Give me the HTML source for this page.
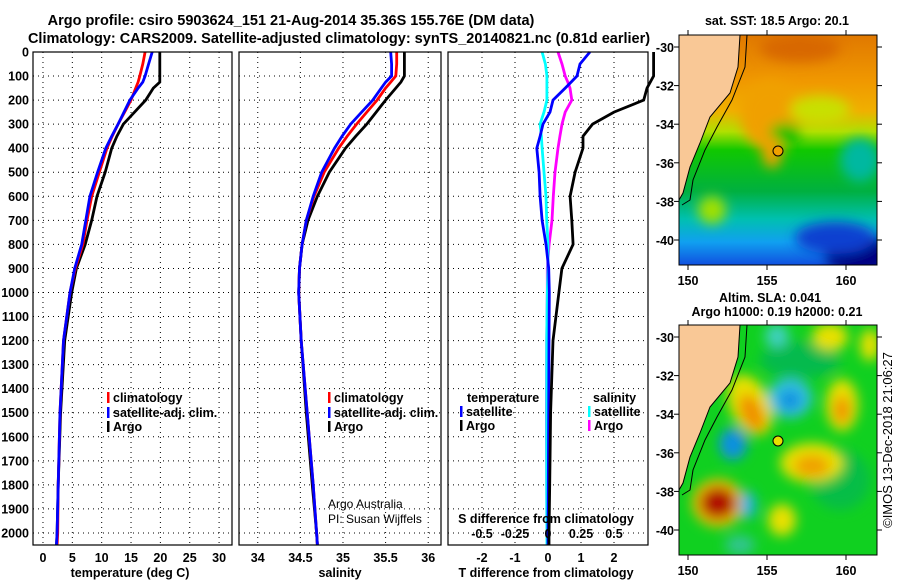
<!DOCTYPE html>
<html><head><meta charset="utf-8"><style>
body{margin:0;background:#fff;}
svg{display:block;font-family:"Liberation Sans",sans-serif;}
.b{font-weight:bold;font-size:14.5px;}
.t{font-weight:bold;font-size:12.5px;}
</style></head><body>
<svg id="c" width="900" height="580" viewBox="0 0 900 580">
<defs>
<filter id="bl" x="-50%" y="-50%" width="200%" height="200%"><feGaussianBlur stdDeviation="6"/></filter>
<filter id="bl2" x="-50%" y="-50%" width="200%" height="200%"><feGaussianBlur stdDeviation="6"/></filter>
<clipPath id="m1"><rect x="679" y="35" width="198" height="230"/></clipPath>
<clipPath id="m2"><rect x="679" y="325" width="198" height="230"/></clipPath>
<linearGradient id="sst" x1="0" y1="0" x2="0" y2="1">
<stop offset="0" stop-color="#e07800"/><stop offset="0.2" stop-color="#f09800"/><stop offset="0.33" stop-color="#f0b000"/><stop offset="0.42" stop-color="#b0e000"/><stop offset="0.5" stop-color="#10c800"/><stop offset="0.68" stop-color="#00b040"/><stop offset="0.8" stop-color="#00c0b0"/><stop offset="0.9" stop-color="#10a0f0"/><stop offset="1" stop-color="#1050e0"/></linearGradient>
</defs>
<text x="291" y="25" class="b" text-anchor="middle">Argo profile: csiro 5903624_151 21-Aug-2014 35.36S 155.76E (DM data)</text>
<text x="339" y="43" class="b" text-anchor="middle">Climatology: CARS2009. Satellite-adjusted climatology: synTS_20140821.nc (0.81d earlier)</text>
<g id="axes"></g>
<g id="maps">
<g clip-path="url(#m1)">
<rect x="679" y="35" width="198" height="230" fill="url(#sst)"/>
<g filter="url(#bl)">
<ellipse cx="770" cy="115" rx="30" ry="35" fill="#f0a000"/>
<ellipse cx="820" cy="110" rx="30" ry="14" fill="#c8e000"/>
<ellipse cx="785" cy="135" rx="16" ry="12" fill="#10c000"/>
<ellipse cx="772" cy="152" rx="10" ry="16" fill="#f0a000"/>
<ellipse cx="712" cy="210" rx="14" ry="14" fill="#a0e000"/>
<ellipse cx="860" cy="255" rx="35" ry="20" fill="#000080"/>
<ellipse cx="835" cy="238" rx="40" ry="16" fill="#1040d0"/>
<ellipse cx="860" cy="160" rx="20" ry="22" fill="#00b8a0"/>
<ellipse cx="800" cy="48" rx="40" ry="14" fill="#d86800"/>
</g>
<polygon points="679,35 740,35 738,67 730,93 710,117 700,143 690,167 683,193 679,200" fill="#f9c896" stroke="#000" stroke-width="1"/>
<polyline points="747,35 745,67 732,100 717,127 705,150 693,180 690,200 682,205" fill="none" stroke="#000" stroke-width="1"/>
</g>
<rect x="679" y="35" width="198" height="230" fill="none" stroke="#000"/>
<circle cx="778" cy="151" r="5" fill="#f0a000" stroke="#000"/>
<g clip-path="url(#m2)">
<rect x="679" y="325" width="198" height="230" fill="#10d020"/>
<g filter="url(#bl2)">
<ellipse cx="800" cy="360" rx="40" ry="18" fill="#00b060" opacity="0.7"/>
<ellipse cx="840" cy="480" rx="30" ry="30" fill="#00b060" opacity="0.6"/>
<ellipse cx="750" cy="405" rx="20" ry="32" fill="#e8e000" transform="rotate(-25 750 405)"/>
<ellipse cx="752" cy="413" rx="11" ry="20" fill="#f09000" transform="rotate(-25 752 413)"/>
<ellipse cx="733" cy="444" rx="14" ry="16" fill="#1090e0"/>
<ellipse cx="718" cy="503" rx="26" ry="24" fill="#f0c000"/>
<ellipse cx="718" cy="503" rx="18" ry="16" fill="#b01000"/>
<ellipse cx="790" cy="398" rx="22" ry="20" fill="#30c0e0"/>
<ellipse cx="790" cy="400" rx="11" ry="10" fill="#1090e0"/>
<ellipse cx="842" cy="405" rx="16" ry="26" fill="#e8e000"/>
<ellipse cx="842" cy="410" rx="8" ry="14" fill="#f09000"/>
<ellipse cx="812" cy="463" rx="32" ry="20" fill="#e8e000"/>
<ellipse cx="812" cy="466" rx="18" ry="11" fill="#f0a000"/>
<ellipse cx="782" cy="520" rx="14" ry="16" fill="#e8e000"/>
<ellipse cx="777" cy="336" rx="12" ry="12" fill="#40d0c0"/>
<ellipse cx="830" cy="337" rx="18" ry="14" fill="#e8e000"/>
<ellipse cx="748" cy="505" rx="8" ry="14" fill="#20b0e0"/>
<ellipse cx="870" cy="345" rx="10" ry="16" fill="#e8e000"/>
<ellipse cx="740" cy="545" rx="15" ry="10" fill="#40c0c0" opacity="0.7"/>
</g>
<polygon points="679,325 740,325 738,357 730,383 710,407 700,433 690,457 683,483 679,490" fill="#f9c896" stroke="#000" stroke-width="1"/>
<polyline points="747,325 745,357 732,390 717,417 705,440 693,470 690,490 682,495" fill="none" stroke="#000" stroke-width="1"/>
</g>
<rect x="679" y="325" width="198" height="230" fill="none" stroke="#000"/>
<circle cx="778" cy="441" r="5" fill="#e8e000" stroke="#000"/>
<text x="777" y="25" class="t" text-anchor="middle">sat. SST: 18.5 Argo: 20.1</text>
<text x="770" y="302" class="t" text-anchor="middle">Altim. SLA: 0.041</text>
<text x="777" y="316" class="t" text-anchor="middle">Argo h1000: 0.19 h2000: 0.21</text>
<text transform="translate(892,440) rotate(-90)" font-size="13" text-anchor="middle">©IMOS 13-Dec-2018 21:06:27</text>
</g>
</svg>
<script>
// ---- data ----
const depths = [0,50,100,125,150,200,250,300,350,400,500,600,700,800,900,1000,1200,1500,1800,2000,2050];
const tArgo  = [19.9,19.9,19.9,19.9,18.8,17.5,15.6,13.7,12.6,11.7,10.6,9.2,8.3,7.2,5.7,4.9,3.7,3.0,2.6,2.4,2.3];
const tClim  = [17.4,17.0,16.5,16.2,15.8,15.0,13.9,12.8,11.8,10.9,9.6,8.3,7.5,6.8,5.5,4.6,3.5,2.9,2.6,2.5,2.4];
const tSat   = [18.6,18.0,17.4,17.0,16.2,14.8,13.8,12.8,11.7,10.7,9.3,8.0,7.3,6.6,5.4,4.6,3.5,2.9,2.6,2.4,2.3];
const sArgo  = [35.72,35.72,35.72,35.68,35.62,35.50,35.39,35.28,35.15,35.03,34.84,34.70,34.59,34.52,34.49,34.48,34.51,34.57,34.64,34.69,34.70];
const sClim  = [35.63,35.63,35.62,35.56,35.50,35.40,35.28,35.16,35.05,34.95,34.78,34.66,34.57,34.52,34.49,34.48,34.51,34.58,34.65,34.69,34.70];
const sSat   = [35.56,35.57,35.57,35.50,35.45,35.35,35.22,35.09,34.99,34.90,34.75,34.65,34.57,34.52,34.49,34.48,34.51,34.58,34.65,34.69,34.70];
const dTArgo = [3.2,3.2,3.2,3.1,3.0,2.9,2.0,1.35,1.06,1.06,0.82,0.67,0.72,0.76,0.42,0.33,0.15,0.08,0.05,0.03,0.03];
const dTSat  = [1.27,0.97,0.88,0.70,0.52,0.15,0.06,-0.15,-0.24,-0.34,-0.27,-0.24,-0.18,-0.06,0.02,0.04,0.03,0.02,0.01,0.0,0.0];
const dSSat  = [-0.045,-0.02,-0.008,-0.008,-0.008,-0.008,-0.03,-0.06,-0.05,-0.045,-0.03,-0.015,-0.01,0.0,0.0,-0.005,-0.01,-0.01,-0.01,-0.008,-0.008];
const dSArgo = [0.076,0.106,0.13,0.15,0.167,0.18,0.13,0.106,0.09,0.076,0.053,0.04,0.03,0.008,-0.005,-0.005,-0.01,-0.012,-0.01,-0.008,-0.008];
const yTicks = [0,100,200,300,400,500,600,700,800,900,1000,1100,1200,1300,1400,1500,1600,1700,1800,1900,2000];
const tTicks = [0,5,10,15,20,25,30];
const sTicks = [34,34.5,35,35.5,36];
const dtTicks = [-2,-1,0,1,2];
const dsTicks = [-0.5,-0.25,0,0.25,0.5];
const dsTickLabels = ['-0.5','-0.25','0','0.25','0.5'];

const NS='http://www.w3.org/2000/svg';
const g=document.getElementById('axes');
const top_=52, bot=545;
const y=d=>top_+(d/2050)*(bot-top_);
function el(tag,attrs,parent){const e=document.createElementNS(NS,tag);for(const k in attrs)e.setAttribute(k,attrs[k]);(parent||g).appendChild(e);return e;}
function panel(name,x0,x1,v0,v1){
  const sx=v=>x0+(v-v0)/(v1-v0)*(x1-x0);
  const pg=el('g',{});
  
  
  yTicks.forEach(d=>{el('line',{x1:x0,x2:x1,y1:y(d),y2:y(d),stroke:'#000','stroke-dasharray':'1,4'},pg);});
  return {sx,pg};
}
function vgrid(p,ticks,sx){ticks.forEach(v=>el('line',{x1:sx(v),x2:sx(v),y1:top_,y2:bot,stroke:'#000','stroke-dasharray':'1,4'},p.pg));}
function line(p,vals,sx,col,name){
  const pts=vals.map((v,i)=>sx(v).toFixed(1)+','+y(depths[i]).toFixed(1)).join(' ');
  const e=el('polyline',{points:pts,fill:'none',stroke:col,'stroke-width':2.8},p.pg);
  
  
}
function frame(p,x0,x1){el('rect',{x:x0,y:top_,width:x1-x0,height:bot-top_,fill:'none',stroke:'#000','stroke-width':1.2},p.pg);}
function txt(x,yy,s,opts,name){const e=el('text',Object.assign({x:x,y:yy},opts||{}));e.textContent=s;
  
  
  return e;}
const B={'font-weight':'bold','font-size':'12.5'};
// panel 1
const p1=panel('temperature',33,232,-1.7,32.2);
vgrid(p1,tTicks,p1.sx);
line(p1,tArgo,p1.sx,'#000','temp-argo-line');
line(p1,tClim,p1.sx,'#ff0000','temp-climatology-line');
line(p1,tSat,p1.sx,'#0000ff','temp-satellite-line');
frame(p1,33,232);
tTicks.forEach(v=>txt(p1.sx(v),562,String(v),Object.assign({'text-anchor':'middle'},B),'temp-x-tick'));
txt(130,577,'temperature (deg C)',Object.assign({'text-anchor':'middle'},B),'temp-x-title');
yTicks.forEach(d=>txt(29,y(d)+4.5,String(d),Object.assign({'text-anchor':'end'},B),'depth-tick'));
// panel 2
const p2=panel('salinity',239,441,33.78,36.15);
vgrid(p2,sTicks,p2.sx);
line(p2,sArgo,p2.sx,'#000','sal-argo-line');
line(p2,sClim,p2.sx,'#ff0000','sal-climatology-line');
line(p2,sSat,p2.sx,'#0000ff','sal-satellite-line');
frame(p2,239,441);
sTicks.forEach(v=>txt(p2.sx(v),562,String(v),Object.assign({'text-anchor':'middle'},B),'sal-x-tick'));
txt(340,577,'salinity',Object.assign({'text-anchor':'middle'},B),'sal-x-title');
txt(328,508,'Argo Australia',{'font-size':'12'},'credit-line-1');
txt(328,523,'PI: Susan Wijffels',{'font-size':'12'},'credit-line-2');
// panel 3
const p3=panel('difference',448,648,-3.03,3.03);
const sxS=v=>p3.sx(v*4);
vgrid(p3,dtTicks,p3.sx);
line(p3,dSArgo,sxS,'#ff00ff','sal-diff-argo-line');
line(p3,dSSat,sxS,'#00ffff','sal-diff-satellite-line');
line(p3,dTSat,p3.sx,'#0000ff','temp-diff-satellite-line');
line(p3,dTArgo,p3.sx,'#000','temp-diff-argo-line');
frame(p3,448,648);
dtTicks.forEach(v=>txt(p3.sx(v),562,String(v),Object.assign({'text-anchor':'middle'},B),'dt-x-tick'));
dsTicks.forEach((v,i)=>txt(sxS(v),538,dsTickLabels[i],Object.assign({'text-anchor':'middle'},B),'ds-x-tick'));
txt(546,523,'S difference from climatology',Object.assign({'text-anchor':'middle'},B),'ds-axis-title');
txt(546,577,'T difference from climatology',Object.assign({'text-anchor':'middle'},B),'dt-axis-title');
// legends
function leg(x,yy,col,label){el('rect',{x:x,y:yy-10,width:2.5,height:11,fill:col});txt(x+6,yy,label,B,'legend-entry');}
leg(107,402,'#ff0000','climatology');leg(107,417,'#0000ff','satellite-adj. clim.');leg(107,431,'#000','Argo');
leg(328,402,'#ff0000','climatology');leg(328,417,'#0000ff','satellite-adj. clim.');leg(328,431,'#000','Argo');
txt(467,402,'temperature',B,'legend-title-temperature');
leg(460,416,'#0000ff','satellite');leg(460,430,'#000','Argo');
txt(593,402,'salinity',B,'legend-title-salinity');
leg(588,416,'#00ffff','satellite');leg(588,430,'#ff00ff','Argo');
// map axes
function mapAxes(y0,name){
  const lat=[-30,-32,-34,-36,-38,-40], lon=[150,155,160];
  lat.forEach((v,i)=>{const yy=y0+12+i*38.6;el('line',{x1:679,x2:674,y1:yy,y2:yy,stroke:'#000'});el('line',{x1:877,x2:882,y1:yy,y2:yy,stroke:'#000'});txt(674,yy+5,String(v),Object.assign({'text-anchor':'end'},B),name+'-lat-tick');});
  lon.forEach(v=>{const xx=688+(v-150)*15.8;el('line',{x1:xx,x2:xx,y1:y0,y2:y0-5,stroke:'#000'});el('line',{x1:xx,x2:xx,y1:y0+230,y2:y0+235,stroke:'#000'});txt(xx,y0+250,String(v),Object.assign({'text-anchor':'middle'},B),name+'-lon-tick');});
}
mapAxes(35,'sst-map');mapAxes(325,'sla-map');
</script>
</body></html>
